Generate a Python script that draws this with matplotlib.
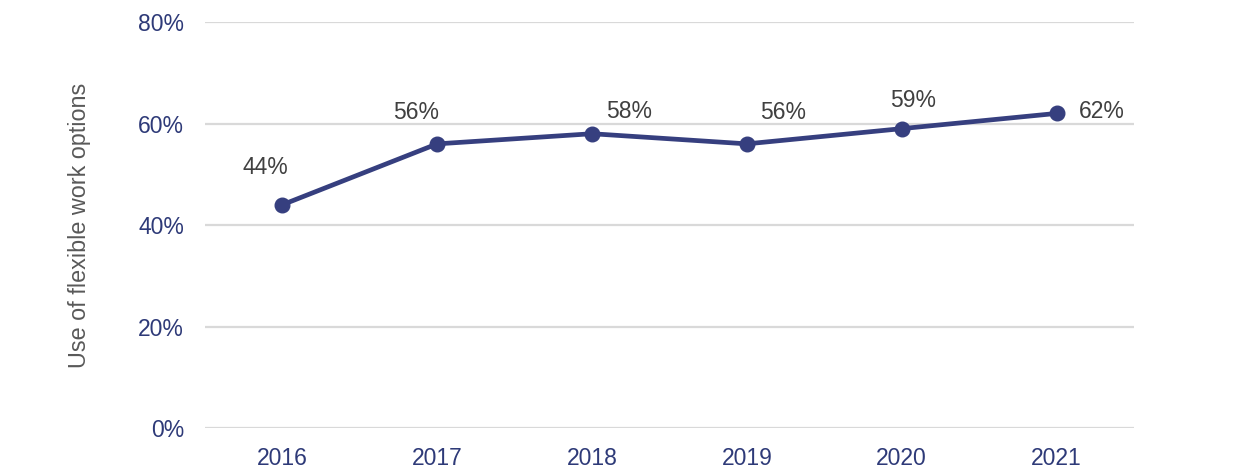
import matplotlib
matplotlib.use("Agg")
import matplotlib.pyplot as plt

years = ["2016", "2017", "2018", "2019", "2020", "2021"]
usage = [44, 56, 58, 56, 59, 62]
# label offsets (pixels) from each point
label_dx = [-17, -21, 37, 36, 11, 45]
label_dy = [37, 31, 22, 31, 28, 2]

plt.rcParams['font.family'] = ['Liberation Sans', 'DejaVu Sans']

fig = plt.figure(figsize=(12.42, 4.72), dpi=100)
ax = fig.add_axes([0.165, 0.0932, 0.748, 0.86])

x = range(len(years))
ax.plot(x, usage, color='#363F7F', linewidth=3.4, marker='o', markersize=10.5, zorder=3)

for i, v in enumerate(usage):
    ax.annotate(f"{v}%", (i, v), xytext=(label_dx[i], label_dy[i]),
                textcoords='offset pixels', ha='center', va='center',
                fontsize=16.5, color='#404040')

ax.set_xlim(-0.5, 5.5)
ax.set_ylim(0, 80)
ax.set_yticks([0, 20, 40, 60, 80])
ax.set_yticklabels([f"{t}%" for t in [0, 20, 40, 60, 80]])
ax.set_xticks(list(x))
ax.set_xticklabels(years)
ax.tick_params(axis='both', length=0, labelsize=16.5, labelcolor='#2E3A78')
ax.tick_params(axis='y', pad=15)
ax.tick_params(axis='x', pad=14)
ax.grid(axis='y', color='#D9D9D9', linewidth=1.6)
ax.set_axisbelow(True)
for s in ax.spines.values():
    s.set_visible(False)

ax.set_ylabel("Use of flexible work options", fontsize=16.8, color='#595959', labelpad=34)

fig.savefig("out.png", dpi=100)
